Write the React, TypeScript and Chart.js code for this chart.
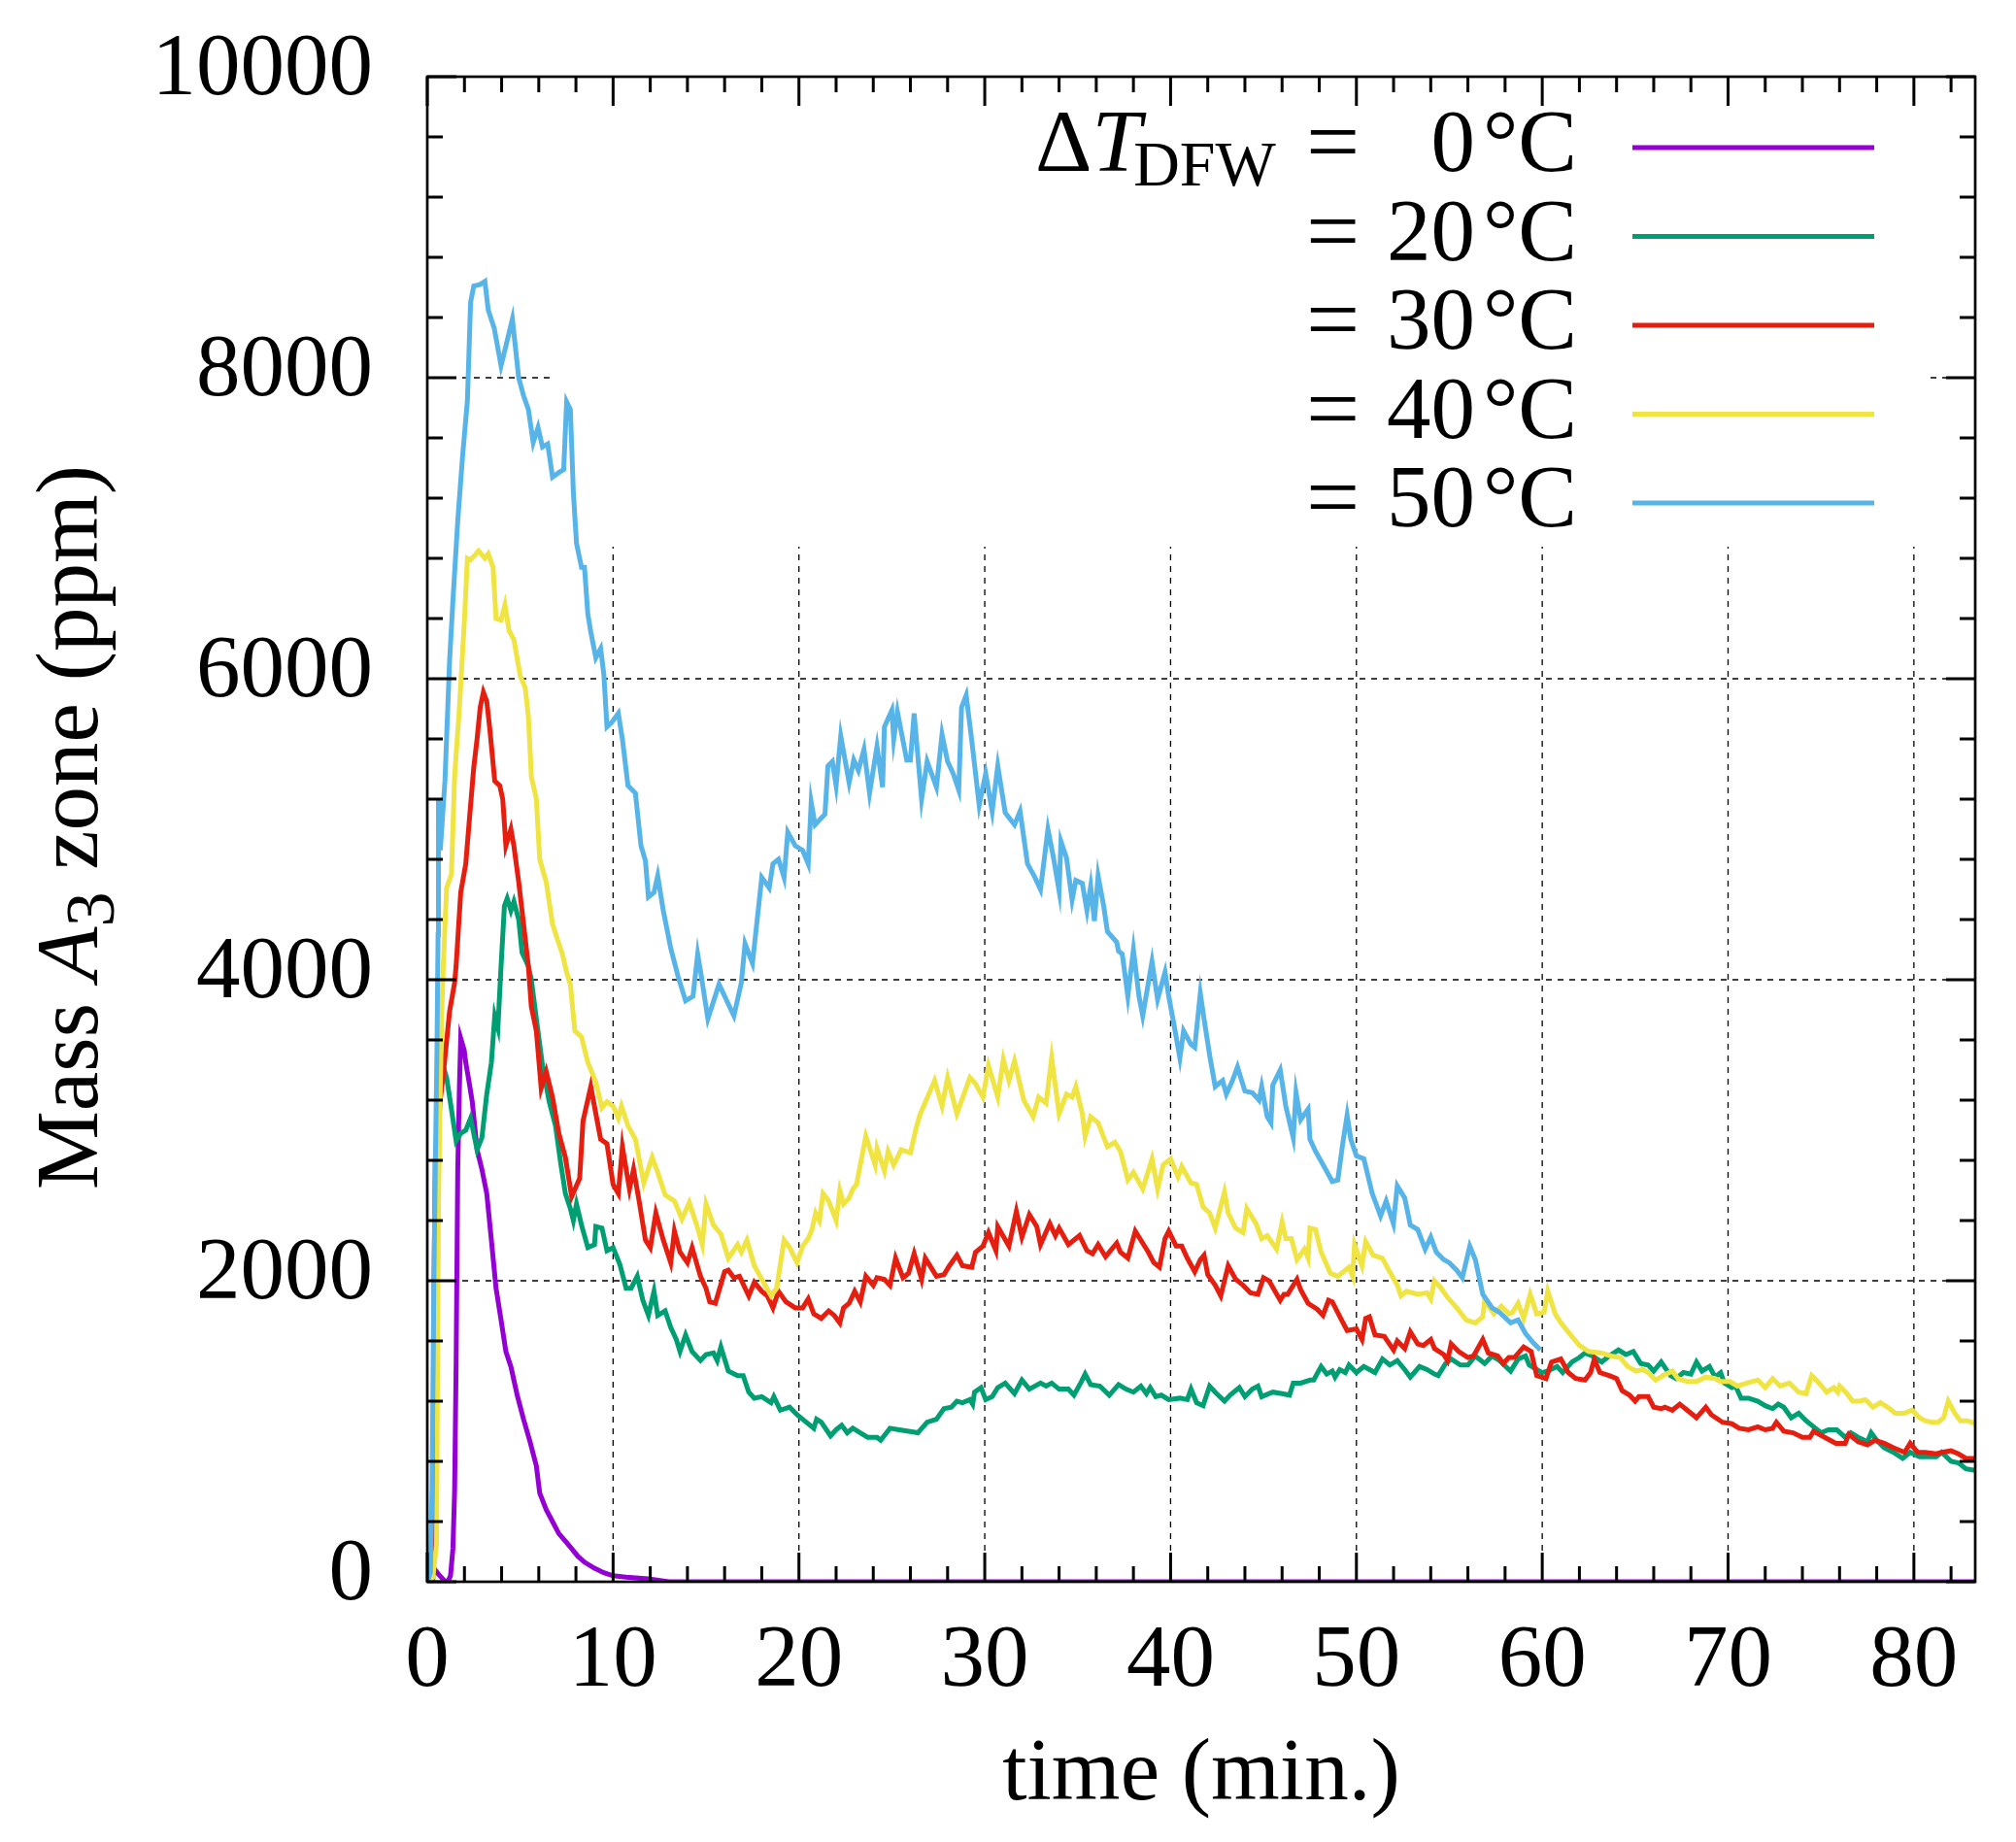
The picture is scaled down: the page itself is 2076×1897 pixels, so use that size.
import { useEffect, useRef } from 'react'
import { Chart, registerables } from 'chart.js'

Chart.register(...registerables)

const FONT = '"Liberation Serif", "Times New Roman", serif'
const FS = 91
const X_MAX = 83.3
const Y_MAX = 10000

const legendLabels = ['0', '20', '30', '40', '50']
const lineColors = ['#9400d3', '#009e73', '#e51e10', '#f0e442', '#56b4e9']

// [time (min), mass (ppm)]
const dt0: [number, number][] = [
  [0, 0], [0.15, 80], [0.3, 100], [0.6, 50], [0.9, 10], [1.1, 0], [1.25, 40], [1.38, 220], [1.47, 600],
  [1.55, 1430], [1.64, 2740], [1.73, 3290], [1.8, 3610], [1.99, 3530], [2.07, 3450], [2.25, 3320],
  [2.42, 3190], [2.68, 2870], [2.94, 2740], [3.2, 2580], [3.45, 2270], [3.7, 1950], [3.97, 1740],
  [4.23, 1530], [4.5, 1430], [4.84, 1240], [5.18, 1080], [5.53, 930], [5.87, 770], [6.05, 590],
  [6.4, 480], [6.74, 400], [7.08, 320], [7.43, 270], [7.77, 220], [8.1, 170], [8.46, 130], [9, 90],
  [9.5, 60], [10, 40], [10.7, 30], [11.9, 20], [13, 0], [83.3, 0],
]

const dt20: [number, number][] = [
  [0, 0], [0.3, 20], [0.4, 800], [0.48, 2000], [0.6, 3000], [0.8, 3450], [1.04, 3350], [1.3, 3140],
  [1.55, 2930], [1.8, 2980], [2.07, 3000], [2.33, 3080], [2.68, 2870], [2.94, 2950], [3.2, 3240],
  [3.45, 3450], [3.63, 3760], [3.8, 3680], [3.97, 4090], [4.15, 4490], [4.3, 4540], [4.5, 4460],
  [4.66, 4520], [4.92, 4400], [5.1, 4180], [5.44, 4090], [5.6, 4000], [5.87, 3740], [6.2, 3430],
  [6.56, 3190], [6.9, 3030], [7.17, 2790], [7.43, 2580], [7.7, 2480], [7.86, 2400], [8.03, 2510],
  [8.3, 2370], [8.64, 2220], [9, 2240], [9.07, 2360], [9.4, 2350], [9.67, 2200], [10, 2220],
  [10.36, 2110], [10.7, 1950], [10.97, 1950], [11.3, 2030], [11.6, 1870], [11.9, 1770], [12.2, 1930],
  [12.4, 1770], [12.8, 1800], [13.1, 1690], [13.4, 1610], [13.6, 1530], [13.9, 1640], [14.25, 1530],
  [14.7, 1470], [15, 1510], [15.4, 1520], [15.6, 1470], [15.8, 1560], [16.2, 1400], [16.7, 1370],
  [17, 1370], [17.3, 1260], [17.6, 1220], [18, 1230], [18.5, 1190], [18.65, 1230], [19, 1140],
  [19.5, 1160], [19.9, 1110], [20.2, 1080], [20.8, 1020], [20.95, 1080], [21.2, 1060], [21.7, 970],
  [22, 1010], [22.3, 1040], [22.6, 990], [22.9, 1020], [23.3, 990], [23.7, 960], [24.2, 960],
  [24.4, 940], [24.9, 1020], [25.4, 1010], [25.9, 1000], [26.4, 990], [26.9, 1060], [27.4, 1080],
  [27.8, 1150], [28.2, 1160], [28.5, 1200], [28.8, 1190], [29.2, 1210], [29.35, 1180], [29.45, 1260],
  [29.8, 1290], [30.05, 1210], [30.4, 1230], [30.7, 1290], [31.1, 1320], [31.6, 1250], [32, 1340],
  [32.4, 1280], [33, 1320], [33.3, 1300], [33.6, 1320], [34, 1280], [34.5, 1280], [34.8, 1240],
  [35.2, 1330], [35.4, 1380], [35.7, 1310], [36.2, 1300], [36.7, 1240], [37.2, 1310], [37.6, 1280],
  [38, 1260], [38.4, 1300], [38.7, 1250], [38.9, 1290], [39.2, 1230], [39.5, 1240], [39.9, 1210],
  [40.5, 1220], [40.9, 1210], [41.1, 1280], [41.4, 1190], [41.75, 1170], [42.1, 1300], [42.4, 1260],
  [42.9, 1200], [43.2, 1240], [43.7, 1290], [44, 1230], [44.4, 1280], [44.7, 1300], [44.9, 1230],
  [45.5, 1260], [46, 1250], [46.4, 1240], [46.6, 1320], [47, 1320], [47.5, 1340], [47.7, 1340],
  [48.1, 1430], [48.4, 1380], [48.7, 1400], [48.85, 1360], [49.1, 1410], [49.4, 1390], [49.6, 1440],
  [50, 1390], [50.4, 1430], [51, 1390], [51.4, 1480], [51.8, 1440], [52.2, 1470], [52.6, 1410],
  [52.9, 1360], [53.4, 1430], [53.8, 1410], [54.2, 1380], [54.4, 1370], [54.8, 1450], [55.1, 1480],
  [55.6, 1440], [56, 1440], [56.4, 1500], [56.9, 1450], [57.3, 1500], [57.7, 1470], [58.3, 1400],
  [58.7, 1480], [59.1, 1500], [59.3, 1440], [60, 1390], [60.3, 1400], [60.8, 1430], [61.1, 1390],
  [61.6, 1460], [62, 1490], [62.3, 1520], [62.7, 1500], [63.2, 1460], [63.6, 1500], [64.1, 1540],
  [64.5, 1510], [64.9, 1530], [65.3, 1450], [65.7, 1440], [66, 1400], [66.4, 1460], [66.9, 1370],
  [67.2, 1350], [67.6, 1390], [68, 1380], [68.3, 1460], [68.6, 1400], [69, 1430], [69.3, 1360],
  [69.6, 1390], [69.8, 1320], [70.2, 1290], [70.4, 1300], [70.7, 1220], [71.1, 1220], [71.6, 1200],
  [72, 1170], [72.4, 1150], [72.7, 1180], [73, 1160], [73.4, 1090], [73.8, 1120], [74.2, 1070],
  [74.6, 1030], [75, 990], [75.4, 1010], [75.85, 1010], [76.3, 960], [76.6, 990], [77, 960],
  [77.5, 930], [77.7, 990], [78, 940], [78.4, 890], [78.9, 860], [79.4, 820], [79.8, 860],
  [80.3, 830], [80.7, 830], [81.2, 830], [81.5, 860], [82, 800], [82.4, 790], [82.8, 750], [83.3, 740],
]

const dt30: [number, number][] = [
  [0, 0], [0.3, 30], [0.36, 1900], [0.43, 2800], [0.6, 3100], [0.86, 3370], [1.2, 3790], [1.47, 3980],
  [1.55, 4090], [1.8, 4580], [2.07, 4770], [2.25, 5040], [2.5, 5410], [2.68, 5600], [2.85, 5810],
  [3.02, 5910], [3.2, 5850], [3.37, 5660], [3.63, 5320], [3.9, 5290], [4.06, 5200], [4.23, 4890],
  [4.5, 5000], [4.66, 4890], [4.92, 4650], [5.18, 4370], [5.44, 4090], [5.6, 3820], [5.87, 3660],
  [6.13, 3280], [6.4, 3390], [6.74, 3220], [7.08, 2980], [7.43, 2820], [7.77, 2560], [8.2, 2680],
  [8.38, 3060], [8.8, 3290], [9.07, 3110], [9.33, 2940], [9.67, 2910], [10, 2640], [10.28, 2580],
  [10.5, 2890], [10.88, 2610], [11.1, 2740], [11.4, 2530], [11.74, 2270], [12, 2220], [12.3, 2450],
  [12.7, 2270], [13.1, 2120], [13.3, 2330], [13.6, 2190], [14, 2120], [14.25, 2220], [14.7, 2030],
  [15, 1950], [15.2, 1860], [15.5, 1850], [16, 2060], [16.2, 2070], [16.5, 2020], [16.8, 2030],
  [17.3, 1900], [17.6, 1990], [18, 1930], [18.3, 1900], [18.6, 1820], [18.9, 1930], [19.3, 1860],
  [19.8, 1820], [20.2, 1820], [20.5, 1880], [20.8, 1780], [21.2, 1750], [21.6, 1800], [21.9, 1770],
  [22.2, 1720], [22.4, 1820], [22.7, 1850], [23, 1930], [23.3, 1860], [23.6, 2030], [24, 1970],
  [24.2, 2020], [24.6, 2010], [24.9, 1970], [25.2, 2150], [25.6, 2020], [25.9, 2050], [26.2, 2180],
  [26.6, 2010], [26.8, 2150], [27.4, 2030], [27.8, 2040], [28.1, 2100], [28.5, 2170], [28.8, 2100],
  [29.3, 2090], [29.5, 2190], [29.9, 2230], [30.2, 2320], [30.6, 2200], [30.7, 2360], [31.3, 2230],
  [31.7, 2460], [32, 2290], [32.4, 2440], [32.8, 2360], [33, 2240], [33.5, 2380], [33.8, 2300],
  [34, 2350], [34.5, 2240], [35.1, 2300], [35.5, 2200], [35.8, 2180], [36.1, 2240], [36.5, 2160],
  [37.1, 2250], [37.3, 2190], [37.7, 2150], [38.1, 2330], [38.5, 2250], [38.8, 2190], [39.1, 2120],
  [39.4, 2090], [39.7, 2280], [39.9, 2330], [40.3, 2230], [40.6, 2230], [40.9, 2150], [41.3, 2060],
  [41.6, 2140], [41.8, 2170], [42, 2040], [42.4, 1970], [42.7, 1900], [43.1, 2100], [43.5, 2010],
  [43.9, 1970], [44.3, 1920], [44.7, 1910], [45, 2020], [45.3, 2000], [45.9, 1870], [46.1, 1910],
  [46.3, 1910], [46.8, 2010], [47, 1940], [47.4, 1850], [47.9, 1810], [48.2, 1770], [48.5, 1870],
  [48.7, 1860], [49.2, 1740], [49.5, 1670], [50, 1680], [50.3, 1610], [50.5, 1750], [50.7, 1760],
  [51, 1640], [51.5, 1630], [52, 1540], [52.2, 1600], [52.6, 1550], [52.9, 1660], [53.3, 1580],
  [53.6, 1570], [54, 1610], [54.2, 1550], [54.7, 1510], [54.9, 1470], [55.1, 1580], [55.5, 1530],
  [56, 1490], [56.3, 1500], [56.8, 1610], [57.1, 1520], [57.6, 1500], [57.9, 1450], [58.2, 1490],
  [58.5, 1490], [59, 1560], [59.4, 1530], [59.7, 1370], [60.2, 1350], [60.5, 1460], [61, 1480],
  [61.4, 1390], [61.8, 1350], [62.3, 1340], [62.6, 1390], [62.8, 1480], [63.1, 1390], [63.6, 1370],
  [64, 1350], [64.3, 1270], [64.7, 1240], [65, 1200], [65.2, 1230], [65.7, 1230], [66, 1160],
  [66.4, 1150], [66.6, 1160], [67, 1140], [67.4, 1180], [67.8, 1140], [68.3, 1090], [68.8, 1160],
  [69.1, 1110], [69.7, 1060], [70.2, 1050], [70.6, 1020], [71.1, 1010], [71.6, 1030], [72, 1010],
  [72.4, 1020], [72.6, 1060], [73, 1000], [73.5, 990], [74, 960], [74.4, 960], [74.6, 1000],
  [75.2, 960], [75.8, 920], [76.3, 920], [76.5, 980], [77, 930], [77.5, 910], [77.9, 940], [78.4, 920],
  [78.9, 890], [79.5, 860], [79.8, 920], [80.2, 860], [80.6, 860], [81.2, 850], [81.5, 860], [82, 870],
  [82.4, 850], [82.8, 820], [83.3, 820],
]

const dt40: [number, number][] = [
  [0, 0], [0.3, 30], [0.5, 250], [0.6, 2480], [0.7, 3270], [0.78, 3790], [0.86, 4090], [1.04, 4610],
  [1.3, 4700], [1.47, 5350], [1.73, 5810], [1.99, 6370], [2.16, 6800], [2.33, 6790], [2.76, 6850],
  [3.1, 6800], [3.28, 6830], [3.54, 6740], [3.7, 6400], [3.97, 6390], [4.18, 6490], [4.4, 6320],
  [4.66, 6260], [5, 6020], [5.27, 5940], [5.44, 5750], [5.6, 5350], [5.87, 5200], [6.05, 4800],
  [6.4, 4650], [6.74, 4370], [7, 4270], [7.25, 4180], [7.5, 4050], [7.7, 3970], [7.94, 3660],
  [8.3, 3620], [8.64, 3450], [9.07, 3320], [9.4, 3150], [9.67, 3190], [10, 3160], [10.28, 3080],
  [10.45, 3160], [10.8, 3030], [11.2, 2940], [11.65, 2650], [12.1, 2820], [12.4, 2720], [12.8, 2570],
  [13.3, 2530], [13.7, 2410], [14.1, 2520], [14.5, 2370], [14.8, 2240], [15, 2510], [15.4, 2370],
  [15.8, 2310], [16.2, 2150], [16.7, 2240], [16.9, 2190], [17.2, 2270], [17.6, 2100], [18, 2010],
  [18.5, 1900], [18.8, 1950], [19.2, 2270], [19.5, 2220], [19.9, 2120], [20.2, 2230], [20.5, 2280],
  [20.7, 2340], [20.9, 2450], [21.1, 2400], [21.3, 2580], [21.6, 2530], [22, 2400], [22.2, 2600],
  [22.4, 2510], [22.7, 2550], [22.9, 2610], [23.1, 2640], [23.3, 2770], [23.6, 2960], [24.1, 2770],
  [24.2, 2880], [24.6, 2730], [24.8, 2860], [25.1, 2770], [25.5, 2870], [26, 2850], [26.3, 3010],
  [26.5, 3100], [27.3, 3330], [27.7, 3160], [28, 3350], [28.5, 3110], [29.2, 3350], [29.5, 3310],
  [29.9, 3220], [30.2, 3430], [30.7, 3220], [31, 3470], [31.3, 3330], [31.6, 3460], [32.1, 3200],
  [32.6, 3090], [32.9, 3220], [33.3, 3180], [33.6, 3480], [34, 3110], [34.4, 3240], [34.7, 3220],
  [34.9, 3290], [35.25, 3110], [35.4, 2960], [35.7, 3090], [36.1, 3050], [36.6, 2890], [37, 2920],
  [37.3, 2860], [37.7, 2670], [38, 2720], [38.5, 2610], [39, 2810], [39.3, 2610], [39.6, 2770],
  [40, 2810], [40.4, 2690], [40.6, 2760], [41.1, 2650], [41.4, 2640], [41.75, 2490], [42.1, 2450],
  [42.4, 2350], [42.9, 2590], [43.1, 2450], [43.5, 2350], [43.9, 2320], [44.1, 2480], [44.6, 2380],
  [44.9, 2280], [45.2, 2300], [45.7, 2210], [46, 2390], [46.2, 2280], [46.5, 2280], [46.8, 2140],
  [47.2, 2210], [47.4, 2150], [47.5, 2350], [47.8, 2340], [48.1, 2190], [48.6, 2050], [49, 2030],
  [49.6, 2090], [49.8, 2030], [49.9, 2240], [50.3, 2100], [50.5, 2260], [50.9, 2170], [51.4, 2150],
  [51.7, 2080], [52.2, 1970], [52.4, 1900], [52.7, 1930], [53.3, 1910], [53.8, 1920], [54, 1880],
  [54.2, 2000], [54.5, 1960], [54.9, 1890], [55.4, 1820], [55.9, 1740], [56.4, 1720], [56.8, 1760],
  [56.9, 1870], [57.4, 1780], [57.8, 1830], [58.2, 1780], [58.4, 1790], [58.7, 1850], [59, 1750],
  [59.35, 1910], [59.7, 1780], [60.1, 1790], [60.3, 1930], [60.7, 1780], [61, 1720], [61.6, 1630],
  [62, 1570], [62.5, 1530], [63.2, 1520], [63.7, 1500], [64.2, 1490], [64.6, 1430], [65.05, 1400],
  [65.4, 1410], [65.7, 1390], [66.1, 1340], [66.5, 1370], [67, 1400], [67.3, 1350], [67.8, 1330],
  [68.3, 1330], [68.8, 1360], [69.3, 1350], [69.6, 1330], [70.1, 1330], [70.5, 1300], [71, 1320],
  [71.6, 1340], [72, 1290], [72.4, 1350], [72.8, 1300], [73.3, 1320], [73.8, 1260], [74.2, 1250],
  [74.5, 1370], [74.9, 1320], [75.3, 1260], [75.7, 1290], [75.9, 1260], [76, 1300], [76.4, 1250],
  [76.7, 1200], [77.1, 1200], [77.4, 1210], [77.8, 1160], [78.2, 1190], [78.7, 1150], [79, 1120],
  [79.5, 1120], [79.9, 1140], [80.3, 1090], [80.6, 1070], [80.98, 1060], [81.3, 1060], [81.6, 1090],
  [81.85, 1200], [82.2, 1120], [82.5, 1070], [82.9, 1070], [83.3, 1050],
]

const dt50: [number, number][] = [
  [0, 0], [0.17, 60], [0.26, 640], [0.35, 1950], [0.43, 2740], [0.52, 3530], [0.58, 4300], [0.6, 5200],
  [0.7, 4860], [0.95, 5320], [1.2, 6120], [1.38, 6520], [1.64, 7050], [1.9, 7480], [2.16, 7850],
  [2.33, 8500], [2.5, 8610], [2.85, 8620], [3.1, 8640], [3.28, 8450], [3.6, 8330], [3.97, 8080],
  [4.23, 8210], [4.58, 8390], [4.92, 8000], [5.18, 7880], [5.44, 7790], [5.7, 7570], [5.96, 7670],
  [6.2, 7540], [6.48, 7560], [6.74, 7340], [7.08, 7370], [7.34, 7390], [7.5, 7840], [7.7, 7790],
  [7.86, 7240], [8.03, 6900], [8.3, 6740], [8.46, 6740], [8.64, 6430], [8.8, 6310], [9.07, 6140],
  [9.33, 6200], [9.5, 6030], [9.67, 5680], [9.93, 5710], [10.28, 5770], [10.5, 5600], [10.8, 5290],
  [11.2, 5240], [11.5, 4890], [11.74, 4790], [11.9, 4550], [12.2, 4580], [12.4, 4690], [12.7, 4460],
  [13.1, 4210], [13.5, 4020], [13.9, 3860], [14.3, 3890], [14.55, 4170], [14.7, 4060], [15.1, 3740],
  [15.7, 3970], [16.5, 3760], [16.9, 3980], [17.1, 4240], [17.5, 4110], [18, 4680], [18.4, 4610],
  [18.6, 4770], [18.9, 4800], [19.2, 4680], [19.4, 4980], [19.8, 4890], [20.2, 4860], [20.5, 4770],
  [20.66, 5180], [20.87, 5030], [21.4, 5100], [21.56, 5420], [21.8, 5450], [22, 5290], [22.25, 5620],
  [22.7, 5310], [22.95, 5460], [23.2, 5390], [23.5, 5530], [23.8, 5240], [24.2, 5550], [24.5, 5280],
  [24.6, 5680], [25, 5790], [25.1, 5600], [25.3, 5780], [25.8, 5460], [26, 5460], [26.2, 5770],
  [26.6, 5200], [26.9, 5450], [27.4, 5280], [27.7, 5630], [28, 5450], [28.3, 5370], [28.6, 5260],
  [28.75, 5810], [29, 5890], [29.3, 5590], [29.7, 5160], [30.05, 5370], [30.4, 5120], [30.7, 5420],
  [31.1, 5110], [31.6, 5030], [31.9, 5120], [32.3, 4770], [32.7, 4680], [33, 4600], [33.4, 5000],
  [33.7, 4810], [34, 4590], [34.1, 4920], [34.4, 4810], [34.7, 4530], [34.9, 4660], [35.25, 4640],
  [35.5, 4460], [35.7, 4620], [35.9, 4390], [36.1, 4690], [36.4, 4490], [36.6, 4320], [37.1, 4250],
  [37.2, 4190], [37.4, 4170], [37.7, 3890], [38, 4200], [38.3, 3890], [38.5, 3760], [39, 4120],
  [39.3, 3870], [39.7, 4050], [39.9, 3890], [40.2, 3690], [40.5, 3480], [40.7, 3660], [41.1, 3570],
  [41.3, 3550], [41.6, 3910], [41.8, 3740], [42.1, 3500], [42.4, 3290], [42.8, 3330], [43, 3240],
  [43.3, 3320], [43.6, 3420], [44, 3260], [44.4, 3250], [44.76, 3200], [44.9, 3290], [45.2, 3090],
  [45.4, 3050], [45.5, 3300], [45.9, 3400], [46.2, 3160], [46.6, 2950], [46.75, 3250], [47, 3070],
  [47.4, 3140], [47.5, 2940], [47.8, 2860], [48.3, 2750], [48.7, 2660], [49, 2670], [49.25, 2900],
  [49.5, 3100], [49.7, 2940], [50, 2830], [50.4, 2810], [50.85, 2580], [51.3, 2430], [51.6, 2530],
  [51.99, 2380], [52.2, 2630], [52.6, 2550], [52.9, 2370], [53.3, 2340], [53.7, 2210], [54, 2290],
  [54.3, 2190], [54.7, 2140], [55, 2120], [55.4, 2070], [55.7, 2020], [56.1, 2230], [56.4, 2140],
  [56.8, 1910], [57.3, 1820], [57.7, 1790], [58.3, 1720], [58.7, 1740], [59.1, 1650], [59.5, 1590],
  [59.9, 1540],
]

const series = [dt0, dt20, dt30, dt40, dt50]

// gnuplot-like frame: dashed grid, opaque key box, inward ticks on all four sides, key and titles
const gnuplotLook = {
  id: 'gnuplotLook',
  beforeDatasetsDraw(chart: any) {
    const { ctx, chartArea: a, scales } = chart
    const x = scales.x
    const y = scales.y
    ctx.save()
    ctx.strokeStyle = '#000'
    ctx.lineWidth = 1.3
    ctx.setLineDash([6, 6])
    ctx.beginPath()
    for (let i = 1; i * 10 < X_MAX; i++) {
      const px = x.getPixelForValue(i * 10)
      ctx.moveTo(px, a.top)
      ctx.lineTo(px, a.bottom)
    }
    for (let i = 1; i * 2000 < Y_MAX; i++) {
      const py = y.getPixelForValue(i * 2000)
      ctx.moveTo(a.left, py)
      ctx.lineTo(a.right, py)
    }
    ctx.stroke()
    ctx.setLineDash([])
    // the key is opaque, it hides the grid behind it
    ctx.fillStyle = '#fff'
    ctx.fillRect(a.left + 132, a.top + 2, a.right - 49 - (a.left + 132), 482)
    ctx.restore()
  },
  afterDatasetsDraw(chart: any) {
    const { ctx, chartArea: a, scales } = chart
    const x = scales.x
    const y = scales.y
    ctx.save()
    ctx.strokeStyle = '#000'
    ctx.lineWidth = 3
    ctx.beginPath()
    for (let i = 0; i * 2 <= X_MAX; i++) {
      const px = x.getPixelForValue(i * 2)
      const len = i % 5 === 0 ? 30 : 16
      ctx.moveTo(px, a.bottom)
      ctx.lineTo(px, a.bottom - len)
      ctx.moveTo(px, a.top)
      ctx.lineTo(px, a.top + len)
    }
    for (let i = 0; i * 400 <= Y_MAX; i++) {
      const py = y.getPixelForValue(i * 400)
      const len = i % 5 === 0 ? 30 : 16
      ctx.moveTo(a.left, py)
      ctx.lineTo(a.left + len, py)
      ctx.moveTo(a.right, py)
      ctx.lineTo(a.right - len, py)
    }
    ctx.stroke()
    ctx.lineWidth = 2.7
    ctx.strokeRect(a.left, a.top, a.right - a.left, a.bottom - a.top)
    ctx.restore()
  },
  afterDraw(chart: any) {
    const { ctx, chartArea: a } = chart
    ctx.save()
    ctx.fillStyle = '#000'
    ctx.textBaseline = 'alphabetic'

    // key
    for (let i = 0; i < legendLabels.length; i++) {
      const rowY = a.top + 73 + i * 91.5
      ctx.strokeStyle = lineColors[i]
      ctx.lineWidth = 5
      ctx.beginPath()
      ctx.moveTo(a.right - 353, rowY)
      ctx.lineTo(a.right - 104, rowY)
      ctx.stroke()

      const base = rowY + 24
      const textRight = a.right - 410
      ctx.font = `${FS}px ${FONT}`
      ctx.textAlign = 'right'
      ctx.fillText('°C', textRight, base)
      const unitW = ctx.measureText('°C').width
      ctx.fillText(legendLabels[i], textRight - unitW - 8, base)
      ctx.textAlign = 'left'
      ctx.font = `98px ${FONT}`
      ctx.fillText('=', a.right - 689, base + 2)
      if (i === 0) {
        ctx.font = `${FS}px ${FONT}`
        let cx = a.right - 968
        ctx.fillText('Δ', cx, base)
        cx += ctx.measureText('Δ').width
        ctx.font = `italic ${FS}px ${FONT}`
        ctx.fillText('T', cx, base)
        cx += ctx.measureText('T').width - 8
        ctx.font = `66px ${FONT}`
        ctx.fillText('DFW', cx, base + 15)
      }
    }

    // x title
    ctx.font = `${FS}px ${FONT}`
    ctx.textAlign = 'center'
    ctx.fillText('time (min.)', (a.left + a.right) / 2, a.bottom + 224)

    // y title, rotated, with italic A and subscript 3
    const parts = [
      { t: 'Mass ', f: `${FS}px ${FONT}`, dy: 0 },
      { t: 'A', f: `italic ${FS}px ${FONT}`, dy: 0 },
      { t: '3', f: `72px ${FONT}`, dy: 17 },
      { t: ' zone (ppm)', f: `${FS}px ${FONT}`, dy: 0 },
    ]
    let total = 0
    for (const p of parts) {
      ctx.font = p.f
      total += ctx.measureText(p.t).width
    }
    ctx.translate(a.left - 340, (a.top + a.bottom) / 2 - 2)
    ctx.rotate(-Math.PI / 2)
    ctx.textAlign = 'left'
    let px = -total / 2
    for (const p of parts) {
      ctx.font = p.f
      ctx.fillText(p.t, px, p.dy)
      px += ctx.measureText(p.t).width
    }
    ctx.restore()
  },
}

export default function App() {
  const canvasRef = useRef<HTMLCanvasElement>(null)

  useEffect(() => {
    if (!canvasRef.current) return
    const tickFont = { family: FONT, size: FS, lineHeight: 1 }

    const chart = new Chart(canvasRef.current, {
      type: 'line',
      data: {
        datasets: series.map((s, i) => ({
          label: `${legendLabels[i]} °C`,
          data: s.map(([t, v]) => ({ x: t, y: v })),
          borderColor: lineColors[i],
          backgroundColor: lineColors[i],
          borderWidth: 5,
          pointRadius: 0,
          tension: 0,
          fill: false,
          order: series.length - 1 - i,
        })),
      },
      options: {
        responsive: true,
        maintainAspectRatio: false,
        animation: false,
        layout: { padding: { top: 79, right: 42, left: 0, bottom: 0 } },
        plugins: {
          legend: { display: false },
          tooltip: { enabled: false },
        },
        scales: {
          x: {
            type: 'linear',
            min: 0,
            max: X_MAX,
            grid: { display: false, drawTicks: false },
            border: { display: false },
            ticks: {
              stepSize: 10,
              includeBounds: false,
              autoSkip: false,
              maxRotation: 0,
              color: '#000',
              font: tickFont,
              padding: 38,
              callback: (v: any) => String(v),
            },
            afterFit: (s: any) => {
              s.height = 268
              s.paddingLeft = 0
              s.paddingRight = 0
            },
          },
          y: {
            type: 'linear',
            min: 0,
            max: Y_MAX,
            grid: { display: false, drawTicks: false },
            border: { display: false },
            ticks: {
              stepSize: 2000,
              autoSkip: false,
              color: '#000',
              font: tickFont,
              padding: 56,
              labelOffset: -6,
              callback: (v: any) => String(v),
            },
            afterFit: (s: any) => {
              s.width = 440
              s.paddingTop = 0
              s.paddingBottom = 0
            },
          },
        },
      },
      plugins: [gnuplotLook],
    })

    return () => chart.destroy()
  }, [])

  return (
    <div style={{ position: 'absolute', left: 0, top: 0, width: 2076, height: 1897, background: '#fff' }}>
      <canvas ref={canvasRef} />
    </div>
  )
}
